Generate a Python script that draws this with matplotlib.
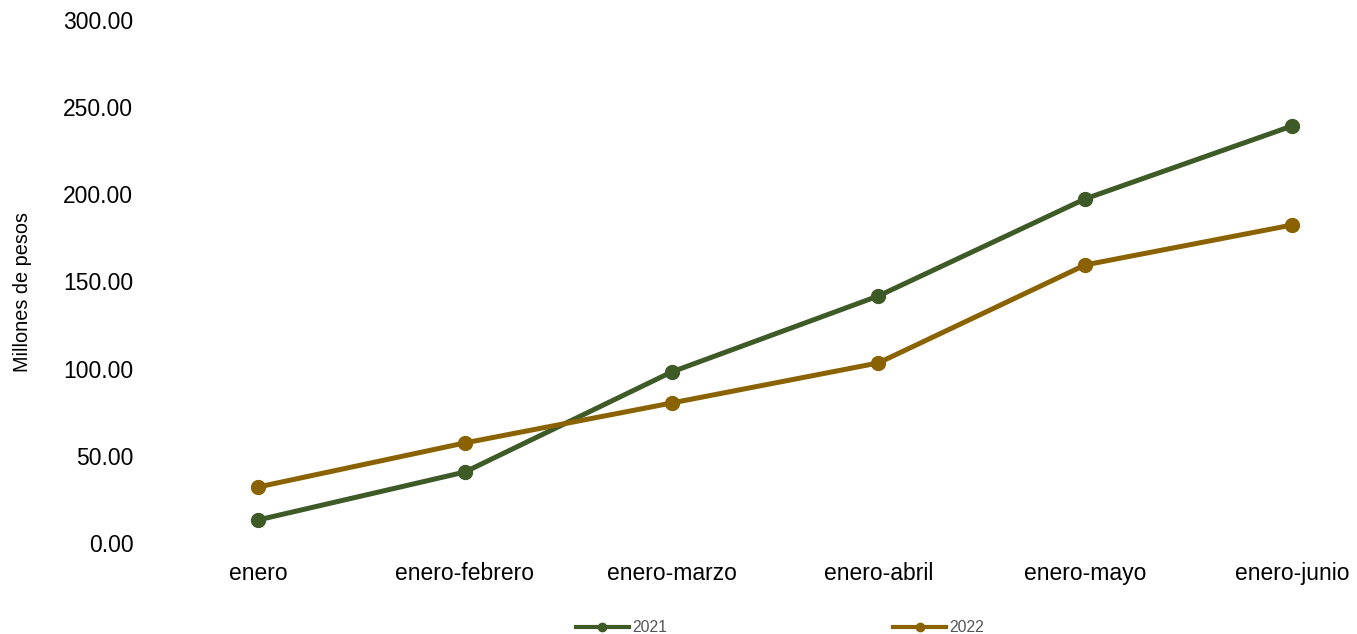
import matplotlib
matplotlib.use("Agg")
import matplotlib.pyplot as plt
from matplotlib.lines import Line2D

categories = ["enero", "enero-febrero", "enero-marzo", "enero-abril", "enero-mayo", "enero-junio"]
serie_2021 = [13.2, 40.7, 98.1, 141.7, 197.4, 239.2]
serie_2022 = [32.1, 57.4, 80.3, 103.3, 159.5, 182.4]
series_names = ["2021", "2022"]
colors = ["#3d5a27", "#8a6300"]

plt.rcParams['font.family'] = ['Liberation Sans', 'DejaVu Sans']

W, H = 1357, 634
fig = plt.figure(figsize=(W / 100, H / 100), dpi=100)
left_px, right_px, top_px, bot_px = 150, 1340, 20, 543
ax = fig.add_axes([left_px / W, 1 - bot_px / H, (right_px - left_px) / W, (bot_px - top_px) / H])

x = list(range(len(categories)))
for vals, c in zip([serie_2021, serie_2022], colors):
    ax.plot(x, vals, color=c, linewidth=3.6, marker="o", markersize=10, solid_capstyle="round")

step = 206.8
ax.set_xlim((left_px - 258) / step, (right_px - 258) / step)
ax.set_ylim(0, 300)
ax.set_yticks([0, 50, 100, 150, 200, 250, 300])
ax.set_yticklabels([f"{v:.2f}" for v in [0, 50, 100, 150, 200, 250, 300]])
ax.set_xticks(x)
ax.set_xticklabels(categories)
ax.tick_params(axis="both", length=0, labelsize=16.5, colors="#000000")
ax.tick_params(axis="y", pad=12)
ax.tick_params(axis="x", pad=14)
for s in ax.spines.values():
    s.set_visible(False)
ax.set_ylabel("Millones de pesos", fontsize=14.3)
ax.yaxis.set_label_coords((32 - left_px) / (right_px - left_px), 0.48)

handles = [Line2D([0], [0], color=c, linewidth=3, marker="o", markersize=6) for c in colors]
leg = fig.legend(handles, series_names, loc="center", bbox_to_anchor=(780 / W, 1 - 628 / H),
                 ncol=2, frameon=False, fontsize=11.3, handlelength=3.4, handletextpad=0.2,
                 columnspacing=14.4, labelcolor="#555555")

fig.savefig("out.png", dpi=100)
